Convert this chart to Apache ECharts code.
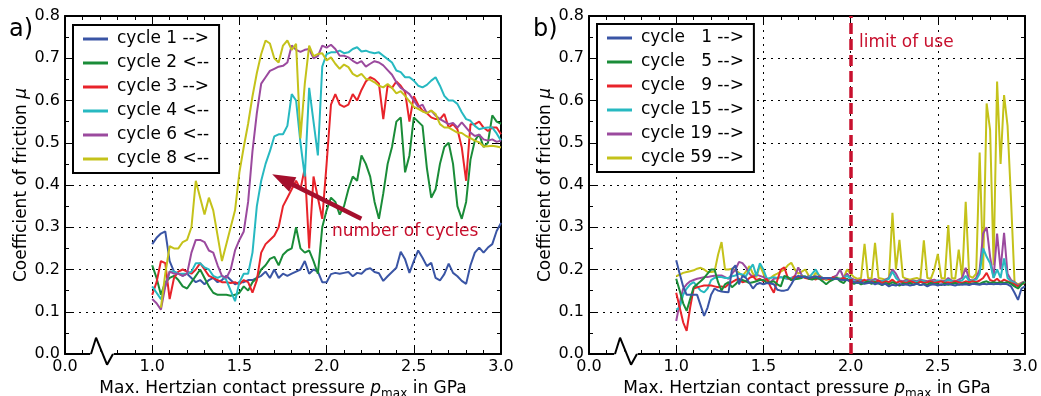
<!DOCTYPE html>
<html><head><meta charset="utf-8">
<script src="https://cdn.jsdelivr.net/npm/echarts@6/dist/echarts.min.js"></script>
<style>html,body{margin:0;padding:0;background:#fff}#c{width:1041px;height:396px}</style>
</head><body><div id="c"></div>
<script>
// ---------- data: panel a) ----------
const xL = [1.0,1.025,1.05,1.075,1.1,1.125,1.15,1.175,1.2,1.225,1.25,1.275,1.3,1.325,1.35,1.375,1.4,1.425,1.45,1.475,
1.5,1.525,1.55,1.575,1.6,1.625,1.65,1.675,1.7,1.725,1.75,1.775,1.8,1.825,1.85,1.875,1.9,1.925,1.95,1.975,
2.0,2.025,2.05,2.075,2.1,2.125,2.15,2.175,2.2,2.225,2.25,2.275,2.3,2.325,2.35,2.375,2.4,2.425,2.45,2.475,
2.5,2.525,2.55,2.575,2.6,2.625,2.65,2.675,2.7,2.725,2.75,2.775,2.8,2.825,2.85,2.875,2.9,2.925,2.95,2.975,3.0];
const cycle1L = [0.26,0.275,0.285,0.29,0.22,0.195,0.19,0.185,0.19,0.18,0.17,0.175,0.165,0.175,0.18,0.17,0.175,0.185,0.175,0.165,
0.17,0.17,0.175,0.175,0.18,0.185,0.195,0.18,0.2,0.18,0.19,0.185,0.19,0.195,0.2,0.22,0.19,0.2,0.195,0.17,0.17,
0.189,0.192,0.19,0.192,0.194,0.184,0.192,0.19,0.2,0.203,
0.194,0.191,0.173,0.184,0.194,0.204,0.242,0.224,0.192,0.22,
0.245,0.228,0.208,0.216,0.18,0.174,0.189,0.214,0.192,0.184,
0.173,0.166,0.21,0.24,0.252,0.24,0.252,0.26,0.291,0.31];
const cycle2L = [0.21,0.18,0.14,0.17,0.18,0.185,0.175,0.16,0.155,0.17,0.185,0.2,0.18,0.16,0.145,0.14,0.14,0.14,0.138,0.14,
0.145,0.16,0.15,0.17,0.18,0.2,0.21,0.225,0.23,0.21,0.235,0.245,0.25,0.3,0.25,0.24,0.245,0.22,0.19,0.3,0.34,
0.37,0.36,0.33,0.35,0.39,0.42,0.41,0.47,0.45,0.42,
0.36,0.32,0.38,0.45,0.49,0.55,0.56,0.43,0.47,0.56,
0.55,0.54,0.44,0.37,0.39,0.45,0.49,0.5,0.45,0.35,
0.32,0.36,0.46,0.505,0.52,0.49,0.5,0.565,0.55,0.545];
const cycle3L = [0.14,0.17,0.22,0.215,0.13,0.18,0.195,0.2,0.195,0.19,0.2,0.215,0.2,0.185,0.18,0.175,0.17,0.17,0.168,0.17,
0.165,0.175,0.17,0.145,0.175,0.24,0.26,0.27,0.28,0.3,0.35,0.37,0.39,0.41,0.39,0.44,0.25,0.42,0.37,0.32,0.45,
0.59,0.615,0.59,0.585,0.59,0.615,0.6,0.625,0.645,0.655,
0.65,0.64,0.556,0.636,0.63,0.645,0.635,0.62,0.55,0.61,
0.59,0.576,0.57,0.56,0.556,0.556,0.568,0.536,0.544,0.532,
0.489,0.41,0.544,0.544,0.55,0.536,0.528,0.536,0.536,0.52];
const cycle4L = [0.16,0.145,0.13,0.16,0.195,0.195,0.19,0.19,0.19,0.195,0.215,0.215,0.205,0.2,0.185,0.18,0.185,0.175,0.15,0.125,
0.17,0.19,0.19,0.24,0.35,0.41,0.45,0.48,0.515,0.52,0.52,0.54,0.615,0.6,0.5,0.42,0.63,0.55,0.47,0.68,0.71,
0.714,0.714,0.718,0.712,0.714,0.722,0.726,0.716,0.718,0.714,
0.712,0.714,0.706,0.698,0.69,0.671,0.667,0.655,0.655,0.647,
0.635,0.631,0.637,0.647,0.655,0.635,0.611,0.6,0.6,0.592,
0.572,0.556,0.552,0.54,0.532,0.535,0.536,0.536,0.522,0.505];
const cycle6L = [0.13,0.12,0.105,0.16,0.195,0.19,0.19,0.185,0.19,0.24,0.27,0.27,0.265,0.245,0.24,0.21,0.185,0.18,0.2,0.245,
0.27,0.29,0.36,0.48,0.57,0.64,0.655,0.67,0.675,0.68,0.682,0.69,0.73,0.72,0.715,0.72,0.722,0.7,0.705,0.73,0.725,
0.732,0.722,0.706,0.706,0.702,0.694,0.688,0.693,0.68,0.687,
0.693,0.69,0.683,0.672,0.661,0.643,0.63,0.623,0.615,0.6,
0.585,0.59,0.57,0.576,0.564,0.556,0.55,0.544,0.547,0.536,
0.548,0.536,0.524,0.516,0.519,0.508,0.505,0.508,0.502,0.505];
const cycle8L = [null,null,0.11,0.19,0.255,0.25,0.25,0.265,0.27,0.3,0.41,0.37,0.33,0.37,0.34,0.28,0.22,0.26,0.3,0.34,
0.43,0.49,0.545,0.61,0.665,0.71,0.742,0.735,0.7,0.69,0.73,0.742,0.72,0.734,0.51,0.64,0.73,0.705,0.71,0.712,0.695,
0.702,0.687,0.675,0.685,0.679,0.663,0.657,0.663,0.651,0.649,
0.643,0.635,0.631,0.639,0.63,0.617,0.622,0.611,0.598,0.585,
0.58,0.574,0.57,0.576,0.568,0.544,0.536,0.536,0.53,0.524,
0.523,0.516,0.511,0.505,0.501,0.491,0.492,0.493,0.491,0.489];

// ---------- data: panel b) ----------
const xR = [1.00,1.02,1.04,1.06,1.08,1.10,1.12,1.14,1.16,1.18,1.20,1.22,1.24,1.26,1.28,1.30,1.32,1.34,1.36,1.38,
1.40,1.42,1.44,1.46,1.48,1.50,1.52,1.54,1.56,1.58,1.60,1.62,1.64,1.66,1.68,1.70,1.72,1.74,1.76,1.78,
1.80,1.82,1.84,1.86,1.88,1.90,1.92,1.94,1.96,1.98,2.00,2.02,2.04,2.06,2.08,2.10,2.12,2.14,2.16,2.18,
2.20,2.22,2.24,2.26,2.28,2.30,2.32,2.34,2.36,2.38,2.40,2.42,2.44,2.46,2.48,2.50,2.52,2.54,2.56,2.58,
2.60,2.62,2.64,2.66,2.68,2.70,2.72,2.74,2.76,2.78,2.80,2.82,2.84,2.86,2.88,2.90,2.92,2.94,2.96,2.98,3.00];
const cycle1R = [0.222,0.19,0.16,0.14,0.14,0.14,0.14,0.115,0.09,0.11,0.14,0.155,0.15,0.148,0.147,0.146,0.2,0.21,0.165,0.185,
0.18,0.168,0.155,0.165,0.168,0.165,0.168,0.167,0.165,0.152,0.15,0.15,0.152,0.165,0.18,0.185,0.182,0.182,0.18,0.182,
0.184,0.18,0.18,0.18,0.18,0.178,0.178,0.176,0.175,0.175,
0.172,0.17,0.168,0.17,0.166,0.168,0.17,0.165,0.168,0.164,0.166,0.16,0.164,0.162,0.166,0.163,0.165,0.162,0.164,0.166,
0.163,0.165,0.16,0.164,0.165,0.162,0.165,0.163,0.166,0.164,0.162,0.165,0.164,0.165,0.163,0.166,0.165,0.164,0.166,0.165,
0.166,0.165,0.166,0.165,0.166,0.165,0.16,0.145,0.128,0.155,0.16];
const cycle5R = [0.178,0.15,0.12,0.102,0.13,0.158,0.165,0.172,0.18,0.19,0.2,0.2,0.17,0.15,0.165,0.17,0.158,0.165,0.175,0.175,
0.172,0.168,0.17,0.172,0.175,0.175,0.168,0.17,0.172,0.165,0.16,0.185,0.182,0.175,0.177,0.178,0.18,0.184,0.178,0.176,
0.18,0.178,0.172,0.165,0.172,0.176,0.18,0.172,0.168,0.178,
0.17,0.166,0.17,0.165,0.168,0.172,0.166,0.17,0.167,0.163,0.168,0.165,0.17,0.166,0.162,0.167,0.165,0.168,0.164,0.167,
0.163,0.166,0.164,0.168,0.165,0.166,0.163,0.167,0.164,0.166,0.168,0.164,0.166,0.168,0.165,0.167,0.168,0.166,0.17,0.172,
0.168,0.17,0.168,0.17,0.168,0.17,0.166,0.16,0.155,0.165,0.17];
const cycle9R = [0.145,0.11,0.075,0.055,0.11,0.155,0.158,0.16,0.162,0.162,0.162,0.16,0.158,0.16,0.158,0.165,0.17,0.175,0.178,0.17,
0.172,0.18,0.184,0.175,0.178,0.172,0.178,0.16,0.145,0.175,0.2,0.205,0.18,0.175,0.184,0.18,0.184,0.18,0.178,0.18,
0.176,0.184,0.178,0.18,0.176,0.182,0.178,0.176,0.18,0.176,
0.174,0.168,0.172,0.17,0.176,0.168,0.172,0.17,0.174,0.168,0.172,0.17,0.176,0.168,0.172,0.17,0.168,0.172,0.17,0.166,
0.172,0.168,0.17,0.172,0.168,0.17,0.172,0.168,0.17,0.168,0.172,0.17,0.168,0.172,0.17,0.172,0.17,0.174,0.18,0.192,
0.175,0.172,0.178,0.17,0.176,0.172,0.168,0.165,0.16,0.165,0.168];
const cycle15R = [0.105,0.11,0.14,0.155,0.165,0.17,0.16,0.15,0.146,0.155,0.175,0.18,0.182,0.182,0.18,0.18,0.184,0.186,0.19,0.188,
0.184,0.2,0.212,0.185,0.215,0.2,0.178,0.18,0.182,0.18,0.182,0.18,0.178,0.18,0.18,0.182,0.186,0.182,0.18,0.19,
0.2,0.185,0.18,0.178,0.18,0.178,0.18,0.178,0.18,0.185,
0.178,0.172,0.17,0.174,0.172,0.17,0.174,0.172,0.17,0.172,0.174,0.178,0.195,0.18,0.172,0.17,0.172,0.17,0.172,0.17,
0.174,0.172,0.17,0.172,0.17,0.174,0.172,0.17,0.176,0.172,0.17,0.172,0.174,0.185,0.172,0.174,0.176,0.19,0.25,0.23,
0.215,0.18,0.2,0.18,0.226,0.18,0.172,0.168,0.16,0.165,0.17];
const cycle19R = [0.078,0.12,0.155,0.165,0.172,0.175,0.178,0.18,0.182,0.182,0.184,0.185,0.186,0.186,0.182,0.178,0.19,0.2,0.218,0.215,
0.205,0.19,0.182,0.188,0.185,0.182,0.175,0.17,0.178,0.18,0.182,0.18,0.178,0.18,0.184,0.205,0.186,0.18,0.184,0.18,
0.18,0.178,0.176,0.18,0.178,0.182,0.186,0.2,0.18,0.19,
0.18,0.176,0.174,0.176,0.172,0.176,0.174,0.178,0.174,0.172,0.176,0.18,0.2,0.19,0.174,0.172,0.176,0.172,0.174,0.172,
0.176,0.174,0.172,0.174,0.176,0.172,0.174,0.172,0.18,0.174,0.172,0.176,0.18,0.204,0.176,0.174,0.18,0.2,0.285,0.3,
0.23,0.18,0.285,0.2,0.287,0.19,0.175,0.17,0.162,0.168,0.172];
const cycle59R = [0.184,0.188,0.192,0.194,0.196,0.198,0.202,0.204,0.2,0.194,0.194,0.195,0.235,0.265,0.2,0.2,0.202,0.198,0.192,0.185,
0.195,0.208,0.19,0.182,0.21,0.19,0.172,0.18,0.186,0.19,0.195,0.2,0.21,0.216,0.2,0.19,0.195,0.2,0.185,0.18,
0.192,0.186,0.18,0.175,0.178,0.18,0.182,0.178,0.18,0.2,
0.19,0.182,0.178,0.18,0.261,0.18,0.178,0.263,0.18,0.178,0.176,0.18,0.334,0.2,0.27,0.182,0.178,0.176,0.178,0.18,
0.176,0.269,0.18,0.178,0.2,0.237,0.18,0.178,0.305,0.18,0.178,0.247,0.18,0.36,0.185,0.18,0.19,0.477,0.2,0.593,
0.53,0.21,0.645,0.45,0.613,0.54,0.364,0.17,0.165,0.168,0.172];

// ---------- labels / ticks ----------
const namesL = ['cycle 1 -->','cycle 2 <--','cycle 3 -->','cycle 4 <--','cycle 6 <--','cycle 8 <--'];
const namesR = ['cycle   1 -->','cycle   5 -->','cycle   9 -->','cycle 15 -->','cycle 19 -->','cycle 59 -->'];
const colors = ['#3a55a5','#1a8c38','#e8232a','#27b9c1','#9b4a9e','#c4c21a'];
const xTickVals = [0.5,1.0,1.5,2.0,2.5,3.0];
const xTickText = ['0.0','1.0','1.5','2.0','2.5','3.0'];
const limitOfUse = 2.0;
const arrowTail = [2.199, 0.320];
const arrowTip = [1.688, 0.4255];
const breakMark = [[0.649,0],[0.678,0.0385],[0.741,-0.0253],[0.775,0]];
const breakGap = [[0.645,0],[0.779,0]];

const FONT = 'DejaVu Sans';
const chart = echarts.init(document.getElementById('c'));

function xFmt(v){ const i = xTickVals.findIndex(t => Math.abs(t - v) < 1e-6); return i >= 0 ? xTickText[i] : ''; }

function axesFor(g){
  const lineS = {show:true, onZero:false, lineStyle:{color:'#000', width:2}};
  const tick = {show:true, inside:true, length:7, lineStyle:{color:'#000', width:1}};
  const split = {show:true, lineStyle:{color:'#000', width:1, type:[2,5]}};
  const minor = {show:true, splitNumber:5, length:4, lineStyle:{color:'#000', width:1}};
  const minorY = {show:true, splitNumber:2, length:4, lineStyle:{color:'#000', width:1}};
  const xb = {gridIndex:g, type:'value', min:0.5, max:3.0, interval:0.5, position:'bottom',
    axisLine:lineS, axisTick:tick, minorTick:minor, splitLine:split,
    axisLabel:{show:true, margin:5, color:'#000', fontFamily:FONT, fontSize:16, formatter:xFmt},
    name:'{t|Max. Hertzian contact pressure }{i|p}{s|max}{t| in GPa}', nameLocation:'middle', nameGap:20,
    nameTextStyle:{color:'#000', fontFamily:FONT, fontSize:17,
      rich:{t:{fontFamily:FONT, fontSize:17, color:'#000', lineHeight:22, verticalAlign:'middle'},
            i:{fontFamily:FONT, fontSize:17, color:'#000', fontStyle:'italic', lineHeight:22, verticalAlign:'middle'},
            s:{fontFamily:FONT, fontSize:12, color:'#000', verticalAlign:'bottom', lineHeight:22}}}};
  const xt = {gridIndex:g, type:'value', min:0.5, max:3.0, interval:0.5, position:'top',
    axisLine:lineS, axisTick:tick, minorTick:minor, splitLine:{show:false}, axisLabel:{show:false}};
  const yl = {gridIndex:g, type:'value', min:0, max:0.8, interval:0.1, position:'left',
    axisLine:lineS, axisTick:tick, minorTick:minorY, splitLine:split,
    axisLabel:{show:true, margin:5, color:'#000', fontFamily:FONT, fontSize:16, formatter:v => v.toFixed(1)},
    name:'{t|Coefficient of friction }{i|μ}', nameLocation:'middle', nameGap:35, nameRotate:90,
    nameTextStyle:{color:'#000', fontFamily:FONT, fontSize:17,
      rich:{t:{fontFamily:FONT, fontSize:17, color:'#000'}, i:{fontFamily:FONT, fontSize:17, color:'#000', fontStyle:'italic'}}}};
  const yr = {gridIndex:g, type:'value', min:0, max:0.8, interval:0.1, position:'right',
    axisLine:lineS, axisTick:tick, minorTick:minorY, splitLine:{show:false}, axisLabel:{show:false}};
  return {x:[xb, xt], y:[yl, yr]};
}
const aL = axesFor(0), aR = axesFor(1);

function mk(name, xs, ys, color, xi, yi, extra){
  const data = [];
  xs.forEach((x,i) => { if (ys[i] !== null) data.push([x, ys[i]]); });
  return Object.assign({name, type:'line', xAxisIndex:xi, yAxisIndex:yi, data, symbol:'none', showSymbol:false,
    lineStyle:{color, width:2}, itemStyle:{color}, silent:true, animation:false}, extra || {});
}

const seriesL = [cycle1L, cycle2L, cycle3L, cycle4L, cycle6L, cycle8L].map((d,i) => mk(namesL[i], xL, d, colors[i], 0, 0));
const dataR = [cycle1R, cycle5R, cycle9R, cycle15R, cycle19R, cycle59R];
const seriesR = [];
for (let i = 5; i >= 0; i--) {
  const extra = i === 0 ? {markLine:{silent:true, symbol:['none','none'], label:{show:false},
    lineStyle:{color:'#c8102e', width:3.5, type:[11,5]}, data:[{xAxis:limitOfUse}]}} : {};
  seriesR.push(mk(namesR[i], xR, dataR[i], colors[i], 2, 2, extra));
}

function breakSeries(xi, yi){
  return [
    {type:'line', xAxisIndex:xi, yAxisIndex:yi, data:breakGap, symbol:'none', clip:false, silent:true, z:8,
      lineStyle:{color:'#fff', width:5}},
    {type:'line', xAxisIndex:xi, yAxisIndex:yi, data:breakMark, symbol:'none', clip:false, silent:true, z:9,
      lineStyle:{color:'#000', width:2}}
  ];
}

const legendBase = {orient:'vertical', icon:'rect', itemWidth:25, itemHeight:3, itemGap:4,
  padding:[4,10,4,10], borderColor:'#000', borderWidth:2, borderRadius:0, backgroundColor:'#fff',
  selectedMode:false, textStyle:{fontFamily:FONT, fontSize:17, color:'#000', lineHeight:20, padding:[0,0,0,4]}};

chart.setOption({
  animation:false,
  backgroundColor:'#fff',
  grid:[{left:65, top:16, width:436, height:338, containLabel:false, outerBoundsMode:'none'},
        {left:589, top:16, width:436, height:338, containLabel:false, outerBoundsMode:'none'}],
  xAxis:[...aL.x, ...aR.x],
  yAxis:[...aL.y, ...aR.y],
  legend:[Object.assign({}, legendBase, {left:73, top:25, data:namesL}),
          Object.assign({}, legendBase, {left:597, top:24, data:namesR})],
  series:[...seriesL, ...seriesR, ...breakSeries(0,0), ...breakSeries(2,2)],
  graphic:[
    {id:'ta', type:'text', x:9, y:30, style:{text:'a)', fill:'#000', font:'24px "DejaVu Sans"', verticalAlign:'middle', textVerticalAlign:'middle'}},
    {id:'tb', type:'text', x:533, y:30, style:{text:'b)', fill:'#000', font:'24px "DejaVu Sans"', verticalAlign:'middle', textVerticalAlign:'middle'}},
    {id:'tn', type:'text', x:332, y:232, z:20, style:{text:'number of cycles', fill:'#c8102e', font:'17px "DejaVu Sans"', verticalAlign:'middle', textVerticalAlign:'middle'}},
    {id:'tl', type:'text', x:859, y:43, z:20, style:{text:'limit of use', fill:'#c8102e', font:'17px "DejaVu Sans"', verticalAlign:'middle', textVerticalAlign:'middle'}}
  ]
});

// arrow annotation placed through the axes' own conversion
const p0 = chart.convertToPixel({xAxisIndex:0, yAxisIndex:0}, arrowTail);
const p1 = chart.convertToPixel({xAxisIndex:0, yAxisIndex:0}, arrowTip);
const dx = p1[0]-p0[0], dy = p1[1]-p0[1], len = Math.hypot(dx, dy);
const ux = dx/len, uy = dy/len, headL = 23, headW = 8;
const bx = p1[0]-ux*headL, by = p1[1]-uy*headL;
chart.setOption({graphic:[
  {id:'arrL', type:'line', z:30, shape:{x1:p0[0], y1:p0[1], x2:bx+ux*2, y2:by+uy*2}, style:{stroke:'#a50f2d', lineWidth:4.5}},
  {id:'arrH', type:'polygon', z:30, shape:{points:[[p1[0],p1[1]],[bx-uy*headW, by+ux*headW],[bx+uy*headW, by-ux*headW]]}, style:{fill:'#a50f2d'}}
]});
</script>
</body></html>
